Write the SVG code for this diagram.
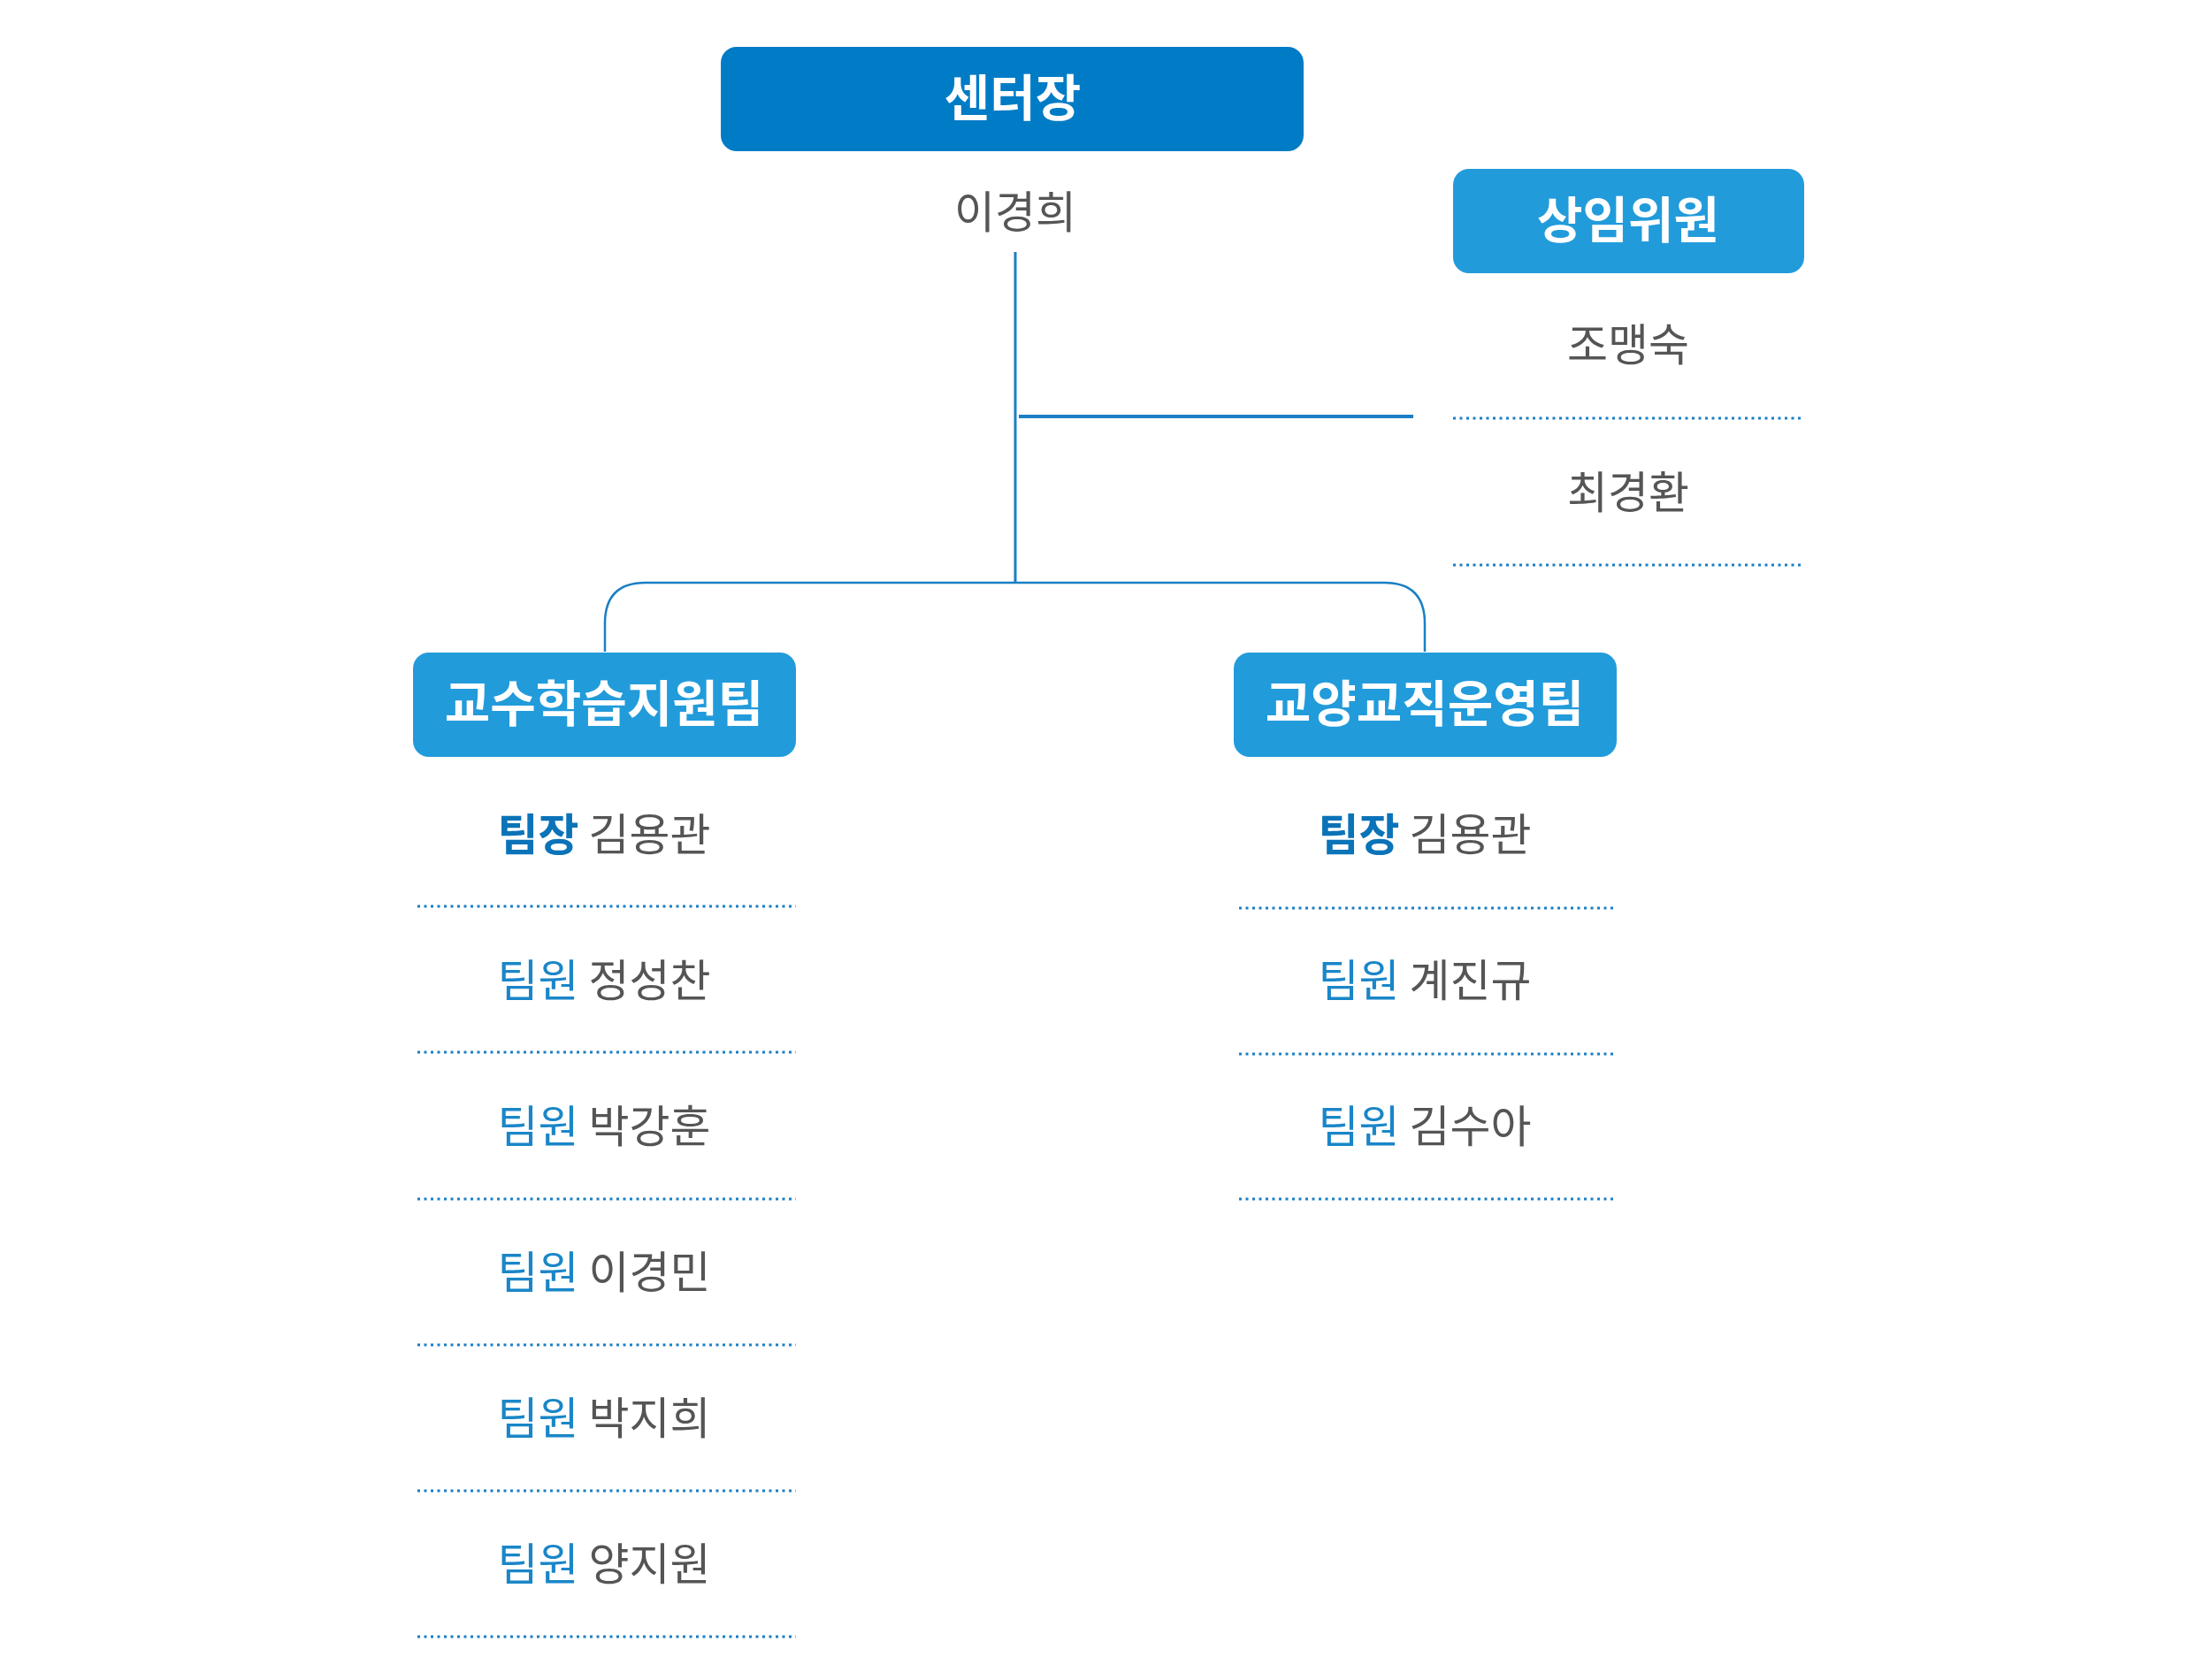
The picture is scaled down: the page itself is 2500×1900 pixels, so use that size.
<svg xmlns="http://www.w3.org/2000/svg" width="2500" height="1900" viewBox="0 0 2500 1900">
<style>
text{font-family:"Noto Sans CJK KR","Noto Sans",sans-serif;text-anchor:middle}
.bt{fill:#fff;font-weight:700;font-size:56px}
.nm{fill:#555;font-size:50px}
.rl{fill:#1a86c8}
.rb{fill:#0b73b8;font-weight:700}
.dot{stroke:#1a7fc4;stroke-width:3;stroke-dasharray:3 4.5;fill:none}
.ln{stroke:#1a7fc4;fill:none}
</style>
<rect width="2500" height="1900" fill="#fff"/>
<g id="connectors">
<line class="ln" x1="1148" y1="285" x2="1148" y2="659" stroke-width="3"/>
<line class="ln" x1="1152" y1="471" x2="1598" y2="471" stroke-width="4"/>
<path class="ln" stroke-width="2.5" d="M684 737 V705 Q684 659 730 659 H1565 Q1611 659 1611 705 V737"/>
</g>
<g id="center">
<rect x="815" y="53" width="659" height="118" rx="18" fill="#007bc6"/>
<text class="bt" x="1145" y="131">센터장</text>
<text class="nm" x="1148" y="258">이경희</text>
</g>
<g id="standing">
<rect x="1643" y="191" width="397" height="118" rx="18" fill="#229bdb"/>
<text class="bt" x="1841" y="269">상임위원</text>
<text class="nm" x="1841" y="408">조맹숙</text>
<line class="dot" x1="1643" y1="473" x2="2040" y2="473"/>
<text class="nm" x="1841" y="575">최경환</text>
<line class="dot" x1="1643" y1="639" x2="2040" y2="639"/>
</g>
<g id="team1">
<rect x="467" y="738" width="433" height="118" rx="18" fill="#229bdb"/>
<text class="bt" x="683" y="816">교수학습지원팀</text>
<text class="nm" x="683" y="962"><tspan class="rb">팀장</tspan> 김용관</text>
<line class="dot" x1="472" y1="1025" x2="900" y2="1025"/>
<text class="nm" x="683" y="1127"><tspan class="rl">팀원</tspan> 정성찬</text>
<line class="dot" x1="472" y1="1190" x2="900" y2="1190"/>
<text class="nm" x="683" y="1292"><tspan class="rl">팀원</tspan> 박강훈</text>
<line class="dot" x1="472" y1="1356" x2="900" y2="1356"/>
<text class="nm" x="683" y="1457"><tspan class="rl">팀원</tspan> 이경민</text>
<line class="dot" x1="472" y1="1521" x2="900" y2="1521"/>
<text class="nm" x="683" y="1622"><tspan class="rl">팀원</tspan> 박지희</text>
<line class="dot" x1="472" y1="1686" x2="900" y2="1686"/>
<text class="nm" x="683" y="1787"><tspan class="rl">팀원</tspan> 양지원</text>
<line class="dot" x1="472" y1="1851" x2="900" y2="1851"/>
</g>
<g id="team2">
<rect x="1395" y="738" width="433" height="118" rx="18" fill="#229bdb"/>
<text class="bt" x="1611" y="816">교양교직운영팀</text>
<text class="nm" x="1611" y="962"><tspan class="rb">팀장</tspan> 김용관</text>
<line class="dot" x1="1401" y1="1027" x2="1828" y2="1027"/>
<text class="nm" x="1611" y="1127"><tspan class="rl">팀원</tspan> 계진규</text>
<line class="dot" x1="1401" y1="1192" x2="1828" y2="1192"/>
<text class="nm" x="1611" y="1292"><tspan class="rl">팀원</tspan> 김수아</text>
<line class="dot" x1="1401" y1="1356" x2="1828" y2="1356"/>
</g>
</svg>
